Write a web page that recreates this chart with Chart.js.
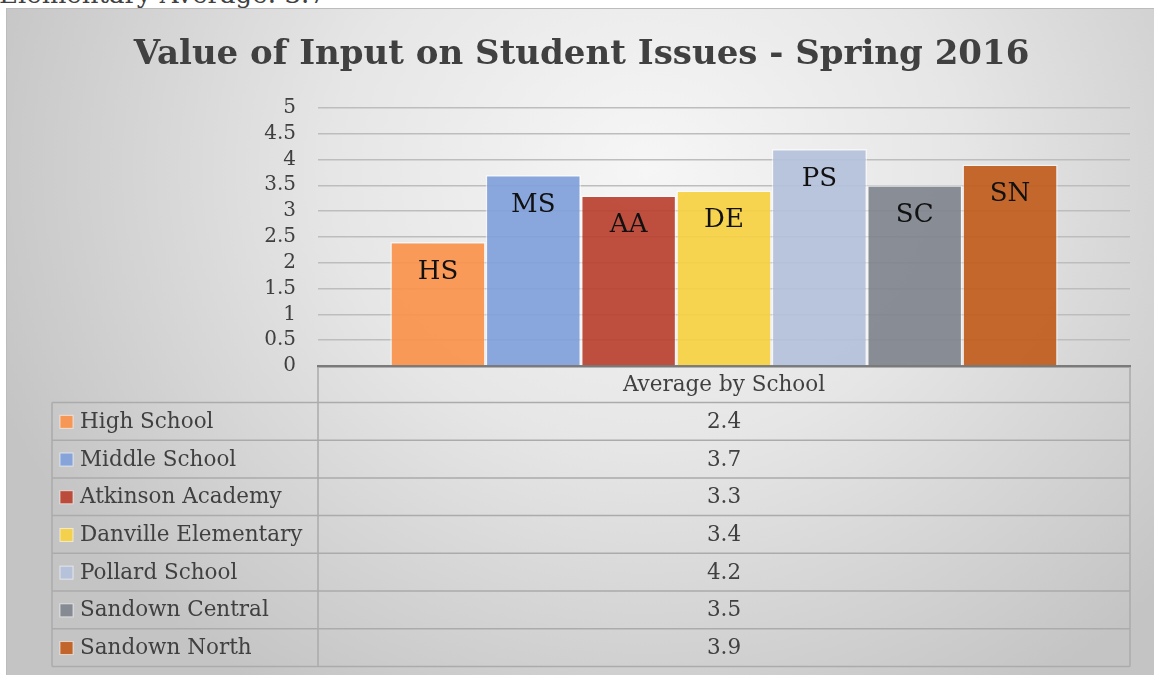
<!DOCTYPE html>
<html>
<head>
<meta charset="utf-8">
<script src="https://cdn.jsdelivr.net/npm/chart.js"></script>
<style>
    html, body { margin: 0; padding: 0; background: #fff; overflow: hidden; width: 1154px; height: 675px; }
    .above {
        position: absolute; left: -1px; top: -19px;
        font: 26px 'DejaVu Serif', serif; line-height: 26px; color: #404040; white-space: nowrap;
    }
    .box {
        position: absolute; left: 6px; top: 8px; width: 1200px; height: 700px;
        border: 1px solid #bcbcbc;
        background: radial-gradient(ellipse 700px 620px at 640px 160px, #f6f6f6 0%, #e6e6e6 45%, #c4c4c4 100%);
    }
    .wrap { position: absolute; left: 0; top: 0; width: 1147px; height: 666px; }
</style>
</head>
<body>
<div class="above">Elementary Average: 3.7</div>
<div class="box">
    <div class="wrap"><canvas id="schoolChart"></canvas></div>
</div>
<script>
    // chart data
    const categories = ['Average by School'];
    const schools = ['High School', 'Middle School', 'Atkinson Academy', 'Danville Elementary',
                     'Pollard School', 'Sandown Central', 'Sandown North'];
    const shortNames = ['HS', 'MS', 'AA', 'DE', 'PS', 'SC', 'SN'];
    const averages = [2.4, 3.7, 3.3, 3.4, 4.2, 3.5, 3.9];

    const barColors = ['rgba(250, 146, 76, 0.92)', 'rgba(128, 161, 219, 0.92)', 'rgba(186, 64, 47, 0.92)',
                       'rgba(246, 209, 66, 0.92)', 'rgba(180, 192, 219, 0.92)', 'rgba(128, 134, 142, 0.92)',
                       'rgba(192, 92, 28, 0.92)'];

    const serif = "'DejaVu Serif', serif";
    const textColor = '#404040';

    // labels inside the bars (HS, MS ...)
    const barLabels = {
        id: 'barLabels',
        afterDatasetsDraw(chart) {
            const ctx = chart.ctx;
            ctx.save();
            ctx.font = '26px ' + serif;
            ctx.fillStyle = '#111';
            ctx.textAlign = 'center';
            ctx.textBaseline = 'middle';
            chart.data.datasets.forEach((ds, i) => {
                const bar = chart.getDatasetMeta(i).data[0];
                ctx.fillText(shortNames[i], bar.x, bar.y + 30);
            });
            ctx.restore();
        }
    };

    // data table under the x axis
    const dataTable = {
        id: 'dataTable',
        afterDraw(chart) {
            const ctx = chart.ctx;
            const area = chart.chartArea;
            const xScale = chart.scales.x;
            const left = 45, right = area.right;
            const top = area.bottom + 1;
            const headerH = 35.5, rowH = 37.7;
            const bottom = top + headerH + rowH * schools.length;
            const cx = xScale.getPixelForValue(0);

            ctx.save();
            ctx.strokeStyle = '#ababab';
            ctx.lineWidth = 1.5;
            ctx.beginPath();
            ctx.moveTo(area.left, top); ctx.lineTo(area.left, bottom);
            ctx.moveTo(right, top); ctx.lineTo(right, bottom);
            ctx.moveTo(left, top + headerH); ctx.lineTo(left, bottom);
            for (let i = 0; i <= schools.length; i++) {
                const y = top + headerH + rowH * i;
                ctx.moveTo(left, y); ctx.lineTo(right, y);
            }
            ctx.stroke();

            ctx.font = '21.5px ' + serif;
            ctx.fillStyle = textColor;
            ctx.textBaseline = 'middle';
            ctx.textAlign = 'center';
            ctx.fillText(categories[0], cx, top + headerH / 2 + 1);

            schools.forEach((name, i) => {
                const yMid = top + headerH + rowH * i + rowH / 2 + 1;
                ctx.textAlign = 'center';
                ctx.fillStyle = textColor;
                ctx.fillText(String(averages[i]), cx, yMid);
                // legend key
                ctx.fillStyle = barColors[i];
                ctx.fillRect(53, yMid - 7, 13, 13);
                ctx.strokeStyle = 'rgba(255,255,255,0.6)';
                ctx.lineWidth = 1;
                ctx.strokeRect(53, yMid - 7, 13, 13);
                ctx.textAlign = 'left';
                ctx.fillStyle = textColor;
                ctx.fillText(name, 73, yMid);
            });
            ctx.restore();
        }
    };

    const ctx = document.getElementById('schoolChart').getContext('2d');
    new Chart(ctx, {
        type: 'bar',
        data: {
            labels: categories,
            datasets: schools.map((name, i) => ({
                label: name,
                data: [averages[i]],
                backgroundColor: barColors[i],
                borderColor: 'rgba(255, 255, 255, 0.55)',
                borderWidth: 1.5
            }))
        },
        options: {
            responsive: true,
            maintainAspectRatio: false,
            animation: false,
            categoryPercentage: 0.822,
            barPercentage: 1,
            layout: { padding: { left: 26, right: 24, top: 0, bottom: 301 } },
            plugins: {
                legend: { display: false },
                tooltip: { enabled: false },
                title: {
                    display: true,
                    text: 'Value of Input on Student Issues - Spring 2016',
                    color: textColor,
                    font: { family: serif, size: 34, weight: 'bold' },
                    padding: { top: 26, bottom: 32 }
                }
            },
            scales: {
                x: {
                    ticks: { display: false },
                    grid: { display: false },
                    border: { display: true, color: '#7a7a7a', width: 2.5 }
                },
                y: {
                    min: 0,
                    max: 5,
                    ticks: {
                        stepSize: 0.5,
                        autoSkip: false,
                        padding: 22,
                        color: textColor,
                        font: { family: serif, size: 20 },
                        callback: (value) => String(Math.round(value * 10) / 10)
                    },
                    grid: { color: '#bdbdbd', lineWidth: 1.5, drawTicks: false },
                    border: { display: false },
                    afterFit(scale) { scale.width = 285; }
                }
            }
        },
        plugins: [barLabels, dataTable]
    });
</script>
</body>
</html>
